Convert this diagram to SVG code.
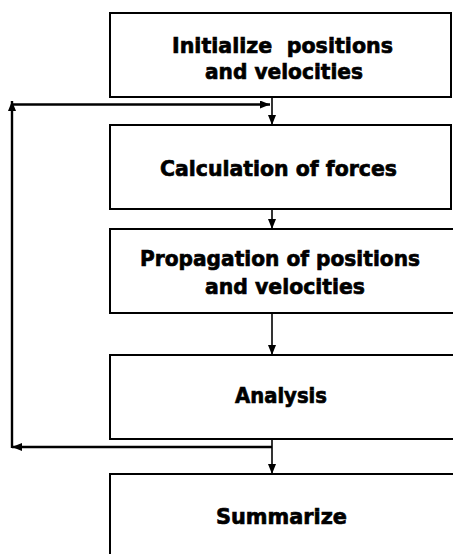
<svg xmlns="http://www.w3.org/2000/svg" width="453" height="554" viewBox="0 0 453 554">
<style>
.box{fill:#fff;stroke:#000;stroke-width:2}
.lbl{font-family:"DejaVu Sans","Verdana",sans-serif;font-weight:bold;font-size:22px;fill:#000;stroke:#000;stroke-width:0.7}
.c{fill:none;stroke:#000;stroke-width:1.6}
.fb{fill:none;stroke:#000;stroke-width:2.4}
</style>
<defs>
<marker id="ah" markerUnits="userSpaceOnUse" markerWidth="10" markerHeight="8" refX="10" refY="4" orient="auto">
<path d="M0,0 L10,4 L0,8 z" fill="#000"/>
</marker>
</defs>
<rect width="453" height="554" fill="#fff"/>
<g id="n1">
<rect class="box" x="110" y="13" width="341" height="84"/>
<text class="lbl" x="172" y="53" textLength="221" lengthAdjust="spacingAndGlyphs" xml:space="preserve">Initialize  positions</text>
<text class="lbl" x="205" y="79" textLength="158" lengthAdjust="spacingAndGlyphs">and velocities</text>
</g>
<g id="n2">
<rect class="box" x="110" y="125" width="341" height="84"/>
<text class="lbl" x="160" y="176" textLength="237" lengthAdjust="spacingAndGlyphs">Calculation of forces</text>
</g>
<g id="n3">
<rect class="box" x="110" y="229" width="360" height="84"/>
<text class="lbl" x="140" y="266" textLength="280" lengthAdjust="spacingAndGlyphs">Propagation of positions</text>
<text class="lbl" x="205" y="294" textLength="160" lengthAdjust="spacingAndGlyphs">and velocities</text>
</g>
<g id="n4">
<rect class="box" x="110" y="355" width="360" height="84"/>
<text class="lbl" x="235" y="403" textLength="92" lengthAdjust="spacingAndGlyphs">Analysis</text>
</g>
<g id="n5">
<rect class="box" x="110" y="474" width="360" height="100"/>
<text class="lbl" x="216" y="524" textLength="131" lengthAdjust="spacingAndGlyphs">Summarize</text>
</g>
<g id="connectors">
<line class="c" x1="272" y1="97" x2="272" y2="125" marker-end="url(#ah)"/>
<line class="c" x1="272" y1="209" x2="272" y2="229" marker-end="url(#ah)"/>
<line class="c" x1="272" y1="313" x2="272" y2="355" marker-end="url(#ah)"/>
<line class="c" x1="272" y1="439" x2="272" y2="474" marker-end="url(#ah)"/>
<line class="fb" x1="272" y1="447" x2="12" y2="447" marker-end="url(#ah)"/>
<line class="fb" x1="12" y1="448" x2="12" y2="101" marker-end="url(#ah)"/>
<line class="fb" x1="12" y1="104.5" x2="270" y2="104.5" marker-end="url(#ah)"/>
</g>
</svg>
